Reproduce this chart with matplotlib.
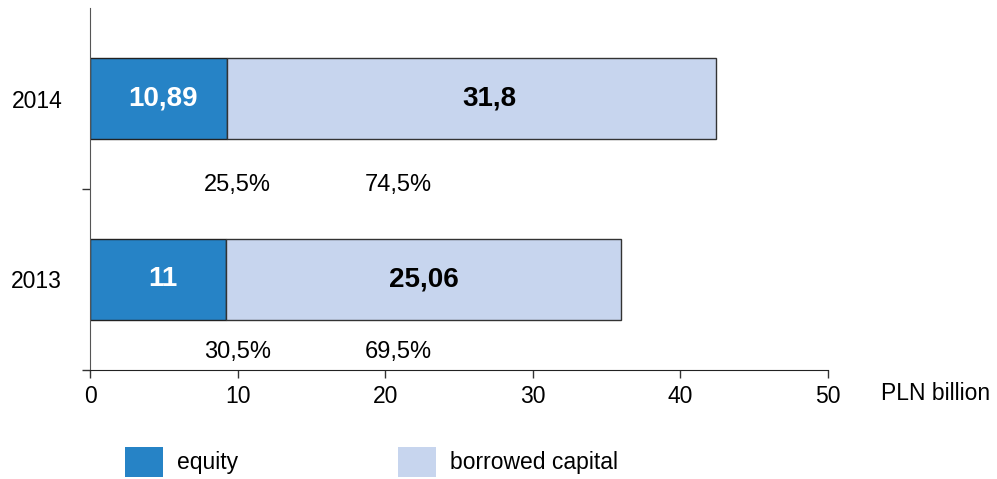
import matplotlib
matplotlib.use("Agg")
import matplotlib.pyplot as plt
from matplotlib.patches import Patch

plt.rcParams['font.family'] = ['Liberation Sans', 'DejaVu Sans']

years = ["2013", "2014"]
equity = [9.21, 9.28]            # drawn segment lengths
borrowed = [26.77, 33.13]
equity_labels = ["11", "10,89"]
borrowed_labels = ["25,06", "31,8"]
equity_pct = ["30,5%", "25,5%"]
borrowed_pct = ["69,5%", "74,5%"]
series_names = ["equity", "borrowed capital"]
xticks = [0, 10, 20, 30, 40, 50]
unit_label = "PLN billion"

c_eq = "#2683C6"
c_bo = "#C7D5EE"

W, H = 997, 479
fig = plt.figure(figsize=(W / 100, H / 100), dpi=100)
ax = fig.add_axes([90 / W, 1 - 370 / H, (828 - 90) / W, (370 - 8) / H])

ypos = list(range(len(years)))
bh = 0.45
ax.barh(ypos, equity, height=bh, color=c_eq, edgecolor="#222222", linewidth=1)
ax.barh(ypos, borrowed, left=equity, height=bh, color=c_bo, edgecolor="#333333", linewidth=1)

for i in ypos:
    ax.text(equity[i] / 2 + 0.3, i, equity_labels[i], color="white", fontsize=20,
            fontweight="bold", ha="center", va="center")
    ax.text(equity[i] + borrowed[i] / 2 + (1.2 if i == 1 else 0), i, borrowed_labels[i],
            color="black", fontsize=20, fontweight="bold", ha="center", va="center")

# percentage labels below each bar
pct_y = [-0.40, 0.52]
for i in ypos:
    ax.text(10.0, pct_y[i], equity_pct[i], fontsize=17, ha="center", va="center")
    ax.text(20.9, pct_y[i], borrowed_pct[i], fontsize=17, ha="center", va="center")

ax.set_xlim(0, 50)
ax.set_ylim(-0.5, len(years) - 0.5)
ax.set_xticks(xticks)
ax.set_xticklabels([str(t) for t in xticks], fontsize=16.5)
ax.tick_params(axis="x", direction="out", length=6, width=1, pad=5, color="#333333")

ax.set_yticks([-0.5, 0.5])
ax.set_yticklabels([])
ax.tick_params(axis="y", which="major", direction="out", length=6, width=1, color="#333333")
ax.set_yticks(ypos, minor=True)
ax.set_yticklabels(years, minor=True, fontsize=16.5)
ax.tick_params(axis="y", which="minor", length=0, pad=20)

for s in ["top", "right"]:
    ax.spines[s].set_visible(False)
ax.spines["left"].set_color("#555555")
ax.spines["bottom"].set_color("#222222")

fig.text(881 / W, 1 - 393 / H, unit_label, fontsize=16.5, ha="left", va="center")

handles = [Patch(facecolor=c_eq, edgecolor="none"), Patch(facecolor=c_bo, edgecolor="none")]
fs = 16.5
em = fs * 100 / 72
fig.legend(handles, series_names, loc="center left", bbox_to_anchor=(125 / W, 1 - 462 / H),
           ncol=2, frameon=False, fontsize=fs, borderpad=0, borderaxespad=0,
           handlelength=38 / em, handleheight=38 / em, handletextpad=14 / em,
           columnspacing=160 / em)

fig.savefig("out.png", dpi=100)
